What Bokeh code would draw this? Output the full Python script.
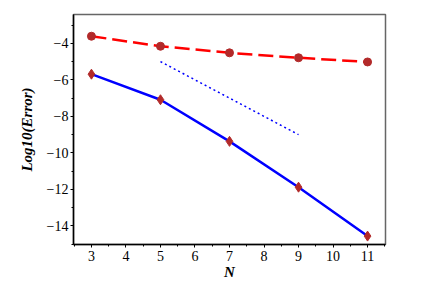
from bokeh.plotting import figure
from bokeh.models import FixedTicker, Range1d
from bokeh.embed import file_html
from bokeh.resources import INLINE

# Data
N = [3, 5, 7, 9, 11]
err_red = [-3.61, -4.16, -4.52, -4.79, -5.02]
err_blue = [-5.69, -7.09, -9.37, -11.88, -14.56]
ref_x = [5, 9]
ref_y = [-5, -9]

x_ticks = [3, 4, 5, 6, 7, 8, 9, 10, 11]
x_minor = [2.5, 3.5, 4.5, 5.5, 6.5, 7.5, 8.5, 9.5, 10.5, 11.5]
y_ticks = [-4, -6, -8, -10, -12, -14]
y_tick_labels = ["\u22124", "\u22126", "\u22128", "\u221210", "\u221212", "\u221214"]
y_minor = [-3, -5, -7, -9, -11, -13, -15]

W, H = 420, 282
p = figure(width=W, height=H, output_backend="svg", toolbar_location=None,
           x_range=Range1d(2.48, 11.52), y_range=Range1d(-15.02, -2.42))
p.min_border_left = 73
p.min_border_right = W - 385
p.min_border_top = 14
p.min_border_bottom = H - 249

p.grid.visible = False
p.outline_line_color = "#666666"
p.outline_line_width = 1.5

serif = "Liberation Serif"
for ax in (p.xaxis[0], p.yaxis[0]):
    ax.axis_line_color = "black"
    ax.axis_line_width = 1.5
    ax.major_tick_line_color = "black"
    ax.minor_tick_line_color = "black"
    ax.major_tick_out = 3
    ax.major_tick_in = 0
    ax.minor_tick_out = 2
    ax.minor_tick_in = 0
    ax.major_label_text_font = serif
    ax.major_label_text_font_size = "14px"
    ax.major_label_text_font_style = "normal"
    ax.major_label_text_color = "black"
    ax.axis_label_text_font = serif
    ax.axis_label_text_font_style = "bold italic"
    ax.axis_label_text_font_size = "15px"
    ax.axis_label_text_color = "black"

p.xaxis.ticker = FixedTicker(ticks=x_ticks, minor_ticks=x_minor)
p.yaxis.ticker = FixedTicker(ticks=y_ticks, minor_ticks=y_minor)
p.yaxis.major_label_overrides = {t: l for t, l in zip(y_ticks, y_tick_labels)}
p.xaxis.axis_label = "N"
p.yaxis.axis_label = "Log10(Error)"
p.xaxis.major_label_standoff = 3
p.yaxis.major_label_standoff = 2
p.xaxis.axis_label_standoff = 0
p.yaxis.axis_label_standoff = 9

mark = "#b22a2a"
p.line(N, err_red, line_color="red", line_width=2.5, line_dash="15 6")
p.scatter(N, err_red, marker="circle", size=8, fill_color=mark, line_color=mark)
p.line(ref_x, ref_y, line_color="blue", line_width=1.5, line_dash="2 3")
p.line(N, err_blue, line_color="blue", line_width=2.5)
p.scatter(N, err_blue, marker="diamond", size=10, fill_color=mark, line_color=mark)

open("out.html", "w").write(file_html(p, INLINE))
